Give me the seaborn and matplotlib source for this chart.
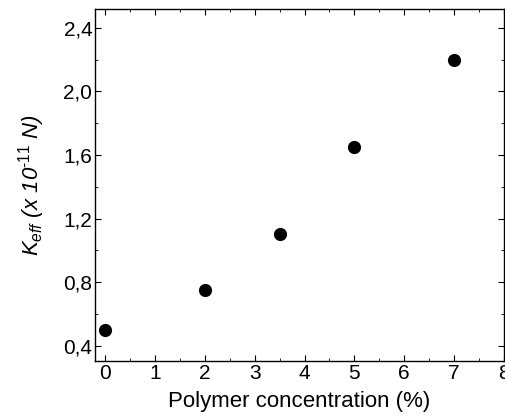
import matplotlib
matplotlib.use("Agg")
import matplotlib.pyplot as plt
import seaborn as sns
import pandas as pd
from matplotlib.ticker import MultipleLocator, FuncFormatter

concentration = [0, 2, 3.5, 5, 7]
k_eff = [0.5, 0.75, 1.1, 1.65, 2.2]

sns.set_style("ticks")
plt.rcParams['font.family'] = ['Liberation Sans', 'DejaVu Sans']
plt.rcParams['mathtext.fontset'] = 'custom'
plt.rcParams['mathtext.rm'] = 'Liberation Sans'
plt.rcParams['mathtext.it'] = 'Liberation Sans:italic'
plt.rcParams['text.color'] = 'black'
plt.rcParams['axes.labelcolor'] = 'black'
plt.rcParams['xtick.color'] = 'black'
plt.rcParams['ytick.color'] = 'black'

df = pd.DataFrame({"c": concentration, "k": k_eff})
fig = plt.figure(figsize=(5.06, 4.2), dpi=100)
ax = fig.add_axes([0.188, 0.141, 0.808, 0.838])
sns.scatterplot(data=df, x="c", y="k", ax=ax, color="black", s=90, edgecolor="black", linewidth=0)

ax.set_xlim(-0.2, 8.0)
ax.set_ylim(0.305, 2.52)
ax.xaxis.set_major_locator(MultipleLocator(1))
ax.xaxis.set_minor_locator(MultipleLocator(0.5))
ax.yaxis.set_major_locator(MultipleLocator(0.4))
ax.yaxis.set_minor_locator(MultipleLocator(0.2))
ax.yaxis.set_major_formatter(FuncFormatter(lambda v, p: f"{v:.1f}".replace(".", ",")))
ax.tick_params(which="both", direction="in", top=True, right=True, labelsize=15, colors="black")
ax.tick_params(which="major", length=4, pad=2)
ax.tick_params(which="minor", length=2.5)
for s in ax.spines.values():
    s.set_linewidth(1.0)
    s.set_color("black")
ax.set_xlabel("Polymer concentration (%)", fontsize=16, labelpad=6)
ax.set_ylabel(r"$K_{eff}$ (x 10$^{\text{-}11}$ N)", fontsize=16, style="italic", labelpad=12)
fig.savefig("out.png", dpi=100)
